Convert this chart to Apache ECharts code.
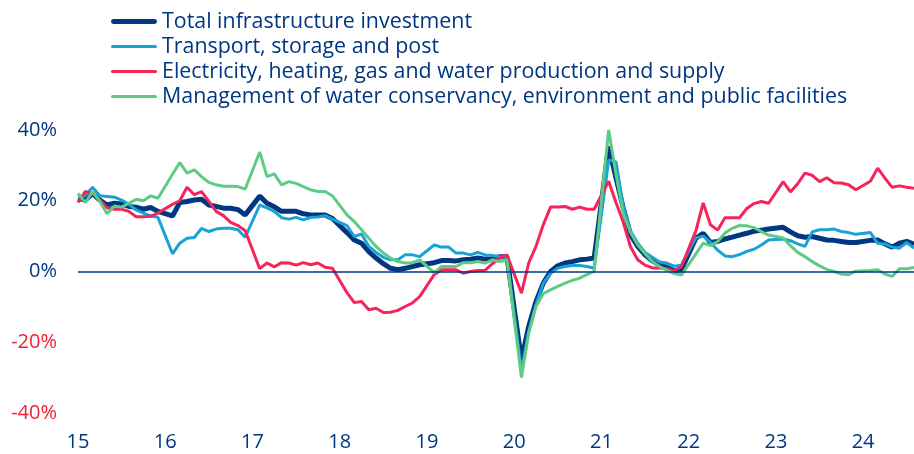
<!DOCTYPE html>
<html>
<head>
<meta charset="utf-8">
<script src="https://cdn.jsdelivr.net/npm/echarts@6/dist/echarts.min.js"></script>
<style>
html, body { margin: 0; padding: 0; background: #fff; }
#main { width: 914px; height: 454px; }
</style>
</head>
<body>
<div id="main"></div>
<script>
// months Jan 2015 .. Aug 2024 (January has no separate figure, Jan-Feb is reported together)
var months = [];
for (var y = 2015; y <= 2024; y++) {
    for (var m = 1; m <= 12; m++) {
        if (y === 2024 && m > 8) break;
        months.push(y + '-' + (m < 10 ? '0' + m : m));
    }
}

var seriesNames = [
    'Total infrastructure investment',
    'Transport, storage and post',
    'Electricity, heating, gas and water production and supply',
    'Management of water conservancy, environment and public facilities'
];

var yTicks = [-40, -20, 0, 20, 40];

// cumulative yoy growth, %
var total = [
    20.7, 20.2, 22, 20.2, 18.8, 19.3, 19.1, 18.4, 18.2, 17.6, 18.1, 17,
    null, 15.7, 19.5, 19.8, 20.2, 20.4, 18.8, 18.4, 17.9, 17.9, 17.5, 16,
    null, 21.3, 19.3, 18.3, 17, 17, 17, 16.3, 16, 16, 16, 15,
    null, 11, 8.9, 8, 5.6, 3.8, 2.2, 0.9, 0.5, 0.9, 1.4, 1.9,
    null, 2.5, 3.1, 3.1, 3, 3.3, 3.5, 3.8, 3.5, 3.6, 4.2, 4.2,
    null, -25, -15.5, -8.5, -3.3, 0, 1.6, 2.4, 2.8, 3.3, 3.5, 3.8,
    null, 35.3, 26.5, 18, 10.4, 7.1, 4.7, 3, 1.8, 1.2, 0.2, 0.5,
    null, 9.4, 10.8, 8.2, 8.5, 9.2, 9.7, 10.3, 10.8, 11.4, 11.7, 12,
    null, 12.5, 11.2, 10.1, 9.7, 9.9, 9.4, 8.9, 8.8, 8.5, 8.2, 8.2,
    null, 8.8, 8.9, 7.8, 6.9, 8, 8.5, 7.7
];
var transport = [
    21, 21.5, 23.8, 21.4, 21.2, 21, 20.2, 19, 17.4, 16.5, 15.7, 15.3,
    null, 5, 8, 9.4, 9.6, 12.2, 11.3, 12, 12.2, 12.2, 11.8, 9.7,
    null, 18.8, 18, 17, 15.2, 14.8, 15.3, 14.6, 15.3, 15.4, 15.8, 14.8,
    null, 13, 9.9, 10.6, 7.1, 5.4, 4, 3.3, 3.3, 4.7, 4.7, 4.2,
    null, 7.5, 6.9, 6.9, 5.2, 5.2, 4.7, 5.4, 4.7, 4.5, 4.2, 4,
    null, -28, -17, -9.4, -3.3, -0.5, 0.9, 1.4, 1.7, 1.7, 1.4, 0.9,
    null, 31.5, 31, 18.6, 11.5, 8, 5.4, 4, 2.7, 2.4, 1.5, 1.8,
    null, 9.5, 10, 8.2, 6, 4.4, 4.2, 4.8, 5.7, 6.3, 7.5, 8.9,
    null, 9.2, 8.7, 7.8, 7.1, 11.2, 11.8, 11.8, 12, 11.3, 11, 10.5,
    null, 11, 8, 7.8, 6.9, 6.6, 8.2, 6.6
];
var electricity = [
    19.5, 22.6, 22, 20.2, 18, 17.6, 17.6, 17, 15.5, 15.5, 15.6, 16.5,
    null, 19, 20, 23.8, 21.7, 22.6, 19.8, 17, 15.8, 13.9, 13, 11.5,
    null, 0.8, 2.4, 1.3, 2.5, 2.4, 1.8, 2.5, 1.9, 2.4, 1.2, 0.9,
    null, -6, -8.8, -8.5, -10.8, -10.4, -11.6, -11.5, -11, -9.9, -8.9, -7.1,
    null, -0.9, 0.5, 0.5, 0.5, -0.5, 0, 0.3, 0.3, 2.2, 3.8, 4.7,
    null, -6.1, 2.4, 7.1, 13.2, 18.2, 18.2, 18.4, 17.6, 18.2, 17.6, 17.6,
    null, 25.5, 19.5, 14, 7, 3.3, 1.8, 1, 1, 0.8, 0.2, 1.4,
    null, 11.5, 19.4, 13.2, 11.7, 15.2, 15.2, 15.2, 17.8, 19.2, 19.8, 19.3,
    null, 25.4, 22.5, 24.8, 27.8, 27.2, 25.4, 26.5, 25.1, 25, 24.5, 23.1,
    null, 25.5, 29.2, 26.4, 23.8, 24.2, 23.8, 23.5
];
var waterPublic = [
    22.1, 19.5, 22.6, 19.8, 16.3, 18.5, 18.2, 19.3, 20.4, 20, 21.4, 20.7,
    null, 27.5, 30.8, 27.8, 28.7, 26.8, 25.2, 24.5, 24.1, 24.1, 24, 23.3,
    null, 33.8, 26.8, 27.6, 24.5, 25.4, 24.9, 24, 23.1, 22.6, 22.6, 21.4,
    null, 16, 14.1, 11.8, 9.4, 7.1, 5.2, 3.8, 2.8, 2.4, 2.5, 3.3,
    null, -0.3, 1.4, 1.4, 1.4, 2.5, 2.5, 2.8, 2.4, 3.3, 2.8, 3.3,
    null, -30, -17.4, -9.9, -6.3, -5.2, -4.2, -3.3, -2.5, -1.9, -0.9, 0,
    null, 40, 27.5, 16.5, 11, 7.5, 5, 2.8, 1.4, 0.4, -0.6, -1,
    null, 5, 8, 7.3, 8.5, 10.9, 12.2, 13, 12.9, 12.4, 11.3, 10.3,
    null, 9.5, 7.3, 5.4, 4.2, 2.8, 1.6, 0.6, 0, -0.7, -0.9, 0.1,
    null, 0.3, 0.5, -0.7, -1.4, 0.8, 0.8, 1.1
];

var colors = ['#003781', '#18a2d6', '#f5245a', '#5ecb85'];
var navy = '#003781';
var fontName = '"Open Sans", sans-serif';

var myChart = echarts.init(document.getElementById('main'));

// plain line icons in the legend, the total one thicker
var thickIcon = 'path://M2,0h42a2.5,2.5 0 0 1 0,5h-42a2.5,2.5 0 0 1 0,-5z';
var thinIcon = 'path://M1.5,0h43a1.5,1.5 0 0 1 0,3h-43a1.5,1.5 0 0 1 0,-3z';

var option = {
    animation: false,
    color: colors,
    textStyle: { fontFamily: fontName },
    legend: {
        orient: 'vertical',
        left: 106,
        top: 6,
        itemWidth: 46,
        itemHeight: 20,
        itemGap: 4,
        textStyle: { color: navy, fontSize: 21.4, lineHeight: 20, fontFamily: fontName },
        data: [
            { name: seriesNames[0], icon: thickIcon },
            { name: seriesNames[1], icon: thinIcon },
            { name: seriesNames[2], icon: thinIcon },
            { name: seriesNames[3], icon: thinIcon }
        ]
    },
    grid: {
        left: 78,
        right: 0,
        top: 130,
        bottom: 41
    },
    xAxis: {
        type: 'category',
        data: months,
        boundaryGap: false,
        axisLine: { show: false },
        axisTick: { show: false },
        splitLine: { show: false },
        axisLabel: {
            margin: 19,
            fontSize: 20,
            color: navy,
            interval: function (index) { return index % 12 === 0; },
            formatter: function (v) { return v.slice(2, 4); }
        }
    },
    yAxis: {
        type: 'value',
        min: yTicks[0],
        max: yTicks[yTicks.length - 1],
        interval: 20,
        axisLine: { show: false },
        axisTick: { show: false },
        splitLine: { show: false },
        axisLabel: {
            margin: 21,
            fontSize: 20,
            color: function (v) { return Number(v) < 0 ? '#f21d2f' : navy; },
            formatter: '{value}%'
        }
    },
    series: [
        {
            name: seriesNames[0],
            type: 'line',
            data: total,
            showSymbol: false,
            symbol: 'none',
            connectNulls: true,
            lineStyle: { width: 5 },
            markLine: {
                silent: true,
                symbol: 'none',
                label: { show: false },
                lineStyle: { color: navy, width: 1.5, type: 'solid' },
                data: [{ yAxis: 0 }]
            }
        },
        {
            name: seriesNames[1],
            type: 'line',
            data: transport,
            showSymbol: false,
            symbol: 'none',
            connectNulls: true,
            lineStyle: { width: 3 }
        },
        {
            name: seriesNames[2],
            type: 'line',
            data: electricity,
            showSymbol: false,
            symbol: 'none',
            connectNulls: true,
            lineStyle: { width: 3 }
        },
        {
            name: seriesNames[3],
            type: 'line',
            data: waterPublic,
            showSymbol: false,
            symbol: 'none',
            connectNulls: true,
            lineStyle: { width: 3 }
        }
    ]
};

myChart.setOption(option);
</script>
</body>
</html>
